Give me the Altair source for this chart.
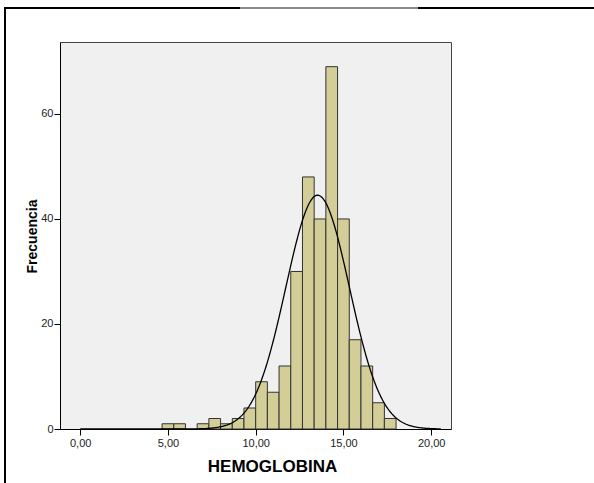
import altair as alt
import pandas as pd

# Histogram of HEMOGLOBINA (bin width 2/3) with a fitted normal curve
BIN_WIDTH = 2 / 3
bin_start = [4.667, 5.333, 6.0, 6.667, 7.333, 8.0, 8.667, 9.333, 10.0, 10.667,
             11.333, 12.0, 12.667, 13.333, 14.0, 14.667, 15.333, 16.0, 16.667, 17.333]
counts = [1, 1, 0, 1, 2, 1, 2, 4, 9, 7,
          12, 30, 48, 40, 69, 40, 17, 12, 5, 2]

# Normal fit parameters
MEAN = 13.53
SD = 1.81
N = sum(counts)

x_ticks = [0, 5, 10, 15, 20]
y_ticks = [0, 20, 40, 60]

bars_df = pd.DataFrame({
    "lo": bin_start,
    "hi": [b + BIN_WIDTH for b in bin_start],
    "n": counts,
})
bars_df = bars_df[bars_df["n"] > 0]

FONT = "Liberation Sans"
x_scale = alt.Scale(domain=[-1.15, 21.13], nice=False, zero=False)
y_scale = alt.Scale(domain=[0, 73.7], nice=False, padding=0)

x_axis = alt.Axis(
    values=x_ticks, title="HEMOGLOBINA", grid=False,
    labelExpr="replace(format(datum.value, '.2f'), '.', ',')",
    labelFont=FONT, labelFontSize=11, labelColor="#222", labelPadding=2,
    tickSize=6, tickColor="#000", domainColor="#000",
    titleFont=FONT, titleFontSize=17, titleFontWeight="bold", titleColor="#000",
    titleX=212, titleY=42, titleBaseline="alphabetic", titleAlign="center",
)
y_axis = alt.Axis(
    values=y_ticks, title="Frecuencia", grid=False,
    labelFont=FONT, labelFontSize=11, labelColor="#222", labelPadding=1,
    tickSize=6, tickColor="#000", domainColor="#000",
    titleFont=FONT, titleFontSize=14, titleFontWeight="bold", titleColor="#000",
    titleX=-24, titleY=194, titleBaseline="alphabetic", titleAlign="center",
)

bars = alt.Chart(bars_df).mark_rect(
    fill="#D3CE97", stroke="#333333", strokeWidth=1
).encode(
    x=alt.X("lo:Q", scale=x_scale, axis=x_axis),
    x2="hi:Q",
    y=alt.Y("n:Q", scale=y_scale, axis=y_axis),
    y2=alt.datum(0),
)

curve = alt.Chart(alt.sequence(0, 20.6, 0.05, as_="h")).transform_calculate(
    f=f"{N} * {BIN_WIDTH} * exp(-0.5 * pow((datum.h - {MEAN}) / {SD}, 2)) / ({SD} * sqrt(2 * PI))"
).mark_line(color="#000", strokeWidth=1.3).encode(
    x=alt.X("h:Q", scale=x_scale),
    y=alt.Y("f:Q", scale=y_scale),
)

# Outer frame of the output page
frame_left = alt.Chart().mark_rule(color="#000", strokeWidth=2).encode(
    x=alt.value(-55), y=alt.value(-34), y2=alt.value(445)
)
frame_top = alt.Chart().mark_rule(color="#000", strokeWidth=2).encode(
    x=alt.value(-56), x2=alt.value(540), y=alt.value(-34)
)
frame_top_gray = alt.Chart().mark_rule(color="#8a8a8a", strokeWidth=2).encode(
    x=alt.value(180), x2=alt.value(358), y=alt.value(-34)
)

chart = alt.layer(bars, curve, frame_left, frame_top, frame_top_gray).properties(
    width=391, height=387,
    autosize=alt.AutoSizeParams(type="none"),
    padding={"left": 60, "top": 42, "right": 143, "bottom": 54},
    background="#ffffff",
).configure_view(
    fill="#F0F0F0", stroke="#444444", strokeWidth=1
)

chart.save("out.html", embed_options={"renderer": "svg", "actions": False})
